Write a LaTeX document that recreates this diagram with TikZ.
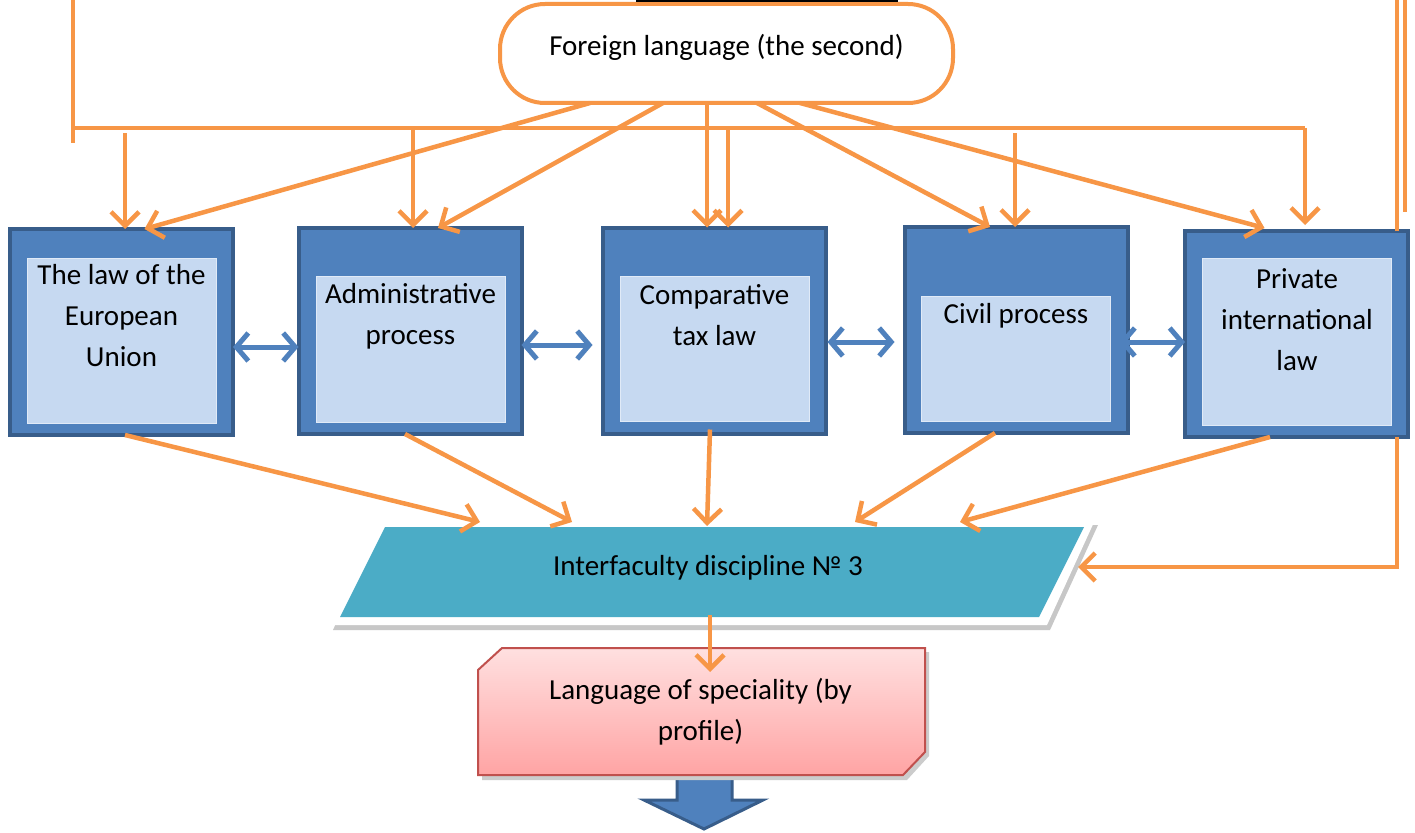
\documentclass[tikz,border=0pt]{standalone}
\usepackage{fontspec}
\setmainfont{Carlito}
\usetikzlibrary{arrows.meta,calc}
\definecolor{orng}{HTML}{F79646}
\definecolor{bmid}{HTML}{4F81BD}
\definecolor{bdark}{HTML}{385D8A}
\definecolor{binner}{HTML}{C6D9F1}
\definecolor{teal}{HTML}{4BACC6}
\definecolor{redb}{HTML}{C0504D}
\definecolor{pinktop}{HTML}{FFE0E0}
\definecolor{pinkbot}{HTML}{FFA4A4}
\begin{document}
\begin{tikzpicture}[x=1pt,y=-1pt,
  outerbox/.style={draw=bdark, line width=4pt, fill=bmid, minimum width=223pt, minimum height=206pt, inner sep=0pt, outer sep=0pt},
  innerbox/.style={draw=white!45!binner, line width=1pt, fill=binner, minimum width=189pt, inner sep=0pt, outer sep=0pt},
  txt/.style={font=\fontsize{29}{41}\selectfont, align=center, inner sep=0pt, text=black},
  oline/.style={draw=orng, line width=4.5pt},
  oarr/.style={draw=orng, line width=4.5pt, -{Straight Barb[length=14pt,width=28pt]}},
  barr/.style={draw=bmid, line width=5pt, {Straight Barb[length=12pt,width=28pt]}-{Straight Barb[length=12pt,width=28pt]}},
  ghost/.style={draw=none, inner sep=0pt, outer sep=0pt}
]
\useasboundingbox (0,0) rectangle (1415,832);
\fill[white] (0,0) rectangle (1415,832);

% ---------- top box ----------
\node[draw=orng, line width=4pt, fill=white, rounded corners=45pt, minimum width=453pt, minimum height=99pt, inner sep=0pt, outer sep=0pt] (fl) at (726.5,53.5) {};
\fill[black] (636,0) rectangle (898,2.5);
\node[txt] (fltext) at (726.5,47) {Foreign language (the second)};

% ---------- five boxes ----------
\node[outerbox] (b1) at (121.5,332) {};
\node[innerbox, minimum height=165pt] (i1) at (121.5,340.5) {};
\node[txt] (t1) at (121.5,316) {The law of the\\European\\Union};

\node[outerbox] (b2) at (410,331) {};
\node[innerbox, minimum height=146pt] (i2) at (410.5,349) {};
\node[txt] (t2) at (410.5,316.5) {Administrative\\process};

\node[outerbox] (b3) at (714,330.5) {};
\node[innerbox, minimum height=145pt] (i3) at (714.5,348.5) {};
\node[txt] (t3) at (714.5,315.5) {Comparative\\tax law};

\node[outerbox] (b4) at (1016,330) {};
\node[innerbox, minimum height=125pt] (i4) at (1015.5,358.5) {};
\node[txt] (t4) at (1016,316) {Civil process};

\node[outerbox] (b5) at (1296.5,334) {};
\node[innerbox, minimum height=167pt] (i5) at (1296.5,341.5) {};
\node[txt] (t5) at (1297,320) {Private\\international\\law};

% ---------- blue double arrows ----------
\draw[barr] ([yshift=-15pt]b1.east) -- ([yshift=-16pt]b2.west);
\draw[barr] ([yshift=-14pt]b2.east) -- ([xshift=-10pt,yshift=-14.5pt]b3.west);
\draw[barr] ([xshift=2pt,yshift=-11.5pt]b3.east) -- ([xshift=-10pt,yshift=-12pt]b4.west);
\draw[barr] ([xshift=-8pt,yshift=-12pt]b4.east) -- ([yshift=-8pt]b5.west);

% ---------- orange lines from above ----------
\coordinate (tl0) at (73,0);
\coordinate (tl1) at (73,143);
\coordinate (busL) at (73,128);
\coordinate (busR) at (1305,128);
\draw[oline] (tl0) -- (tl1);
\draw[oline] (busL) -- (busR);

\coordinate (d1) at ([xshift=3.5pt]b1.north);
\coordinate (d2) at ([xshift=3pt]b2.north);
\coordinate (d3) at ([xshift=14pt]b3.north);
\coordinate (d4) at ([xshift=-1pt]b4.north);
\coordinate (d5) at ([xshift=8.5pt,yshift=6pt]b5.north);
\draw[oarr] ($(d1 |- busL)+(0,5)$) -- (d1);
\draw[oarr] (d2 |- busL) -- (d2);
\draw[oarr] (d3 |- busL) -- (d3);
\draw[oarr] ($(d4 |- busL)+(0,5)$) -- (d4);
\draw[oarr] (busR) -- (d5);

% right-hand vertical lines
\coordinate (r1) at ([xshift=100.5pt]b5.north);
\coordinate (r1top) at (1397,0);
\coordinate (r2top) at (1405,0);
\coordinate (r2bot) at (1405,212);
\draw[oline] (r1top) -- (r1);
\draw[oline] (r2top) -- (r2bot);

% ---------- arrows from the top box ----------
\draw[oarr] ([xshift=-136.5pt]fl.south) -- ([xshift=23pt]b1.north);
\draw[oarr] ([xshift=-63.5pt]fl.south) -- ([xshift=28pt]b2.north);
\draw[oarr] ([xshift=-19.5pt]fl.south) -- ([xshift=-7pt]b3.north);
\draw[oarr] ([xshift=30.5pt]fl.south) -- ([xshift=-26pt]b4.north);
\draw[oarr] ([xshift=73.5pt]fl.south) -- ([xshift=-32pt,yshift=3pt]b5.north);

% ---------- parallelogram ----------
\fill[black!22] (381,525) -- (1098,525) -- (1050,630) -- (333,630) -- cycle;
\fill[white] (378,520) -- (1095,520) -- (1047,625) -- (330,625) -- cycle;
\fill[teal] (385,527) -- (1084,527) -- (1039,617) -- (340,617) -- cycle;
\node[ghost, minimum width=700pt, minimum height=100pt] (pg) at (711.5,572) {};
\node[txt] (pgtext) at (708,568) {Interfaculty discipline № 3};

% arrows from the boxes to the parallelogram
\draw[oarr] ([xshift=3.5pt]b1.south) -- ([xshift=-231.5pt]pg.north);
\draw[oarr] ([xshift=-5pt]b2.south) -- ([xshift=-139.5pt]pg.north);
\draw[oarr] ([xshift=-4pt,yshift=4pt]b3.south) -- ([xshift=-4.5pt,yshift=-4pt]pg.north);
\draw[oarr] ([xshift=-21pt]b4.south) -- ([xshift=143.5pt]pg.north);
\draw[oarr] ([xshift=-26.5pt]b5.south) -- ([xshift=248.5pt]pg.north);
\coordinate (r1b) at ([xshift=100.5pt]b5.south);
\coordinate (pgR) at (1078,567);
\draw[oarr] (r1b) |- (pgR);

% ---------- block arrow ----------
\filldraw[fill=bmid, draw=bdark, line width=3pt, line join=miter]
  (677,770) -- (732,770) -- (732,800) -- (763,800) -- (704,829) -- (644,800) -- (677,800) -- cycle;

% ---------- language box ----------
\fill[black!20] (505,652) -- (929,652) -- (929,756) -- (907,780) -- (482,780) -- (482,674) -- cycle;
\path[top color=pinktop, bottom color=pinkbot, draw=redb, line width=2pt]
  (502,648) -- (925,648) -- (925,752) -- (903,775) -- (478,775) -- (478,670) -- cycle;
\node[ghost, minimum width=447pt, minimum height=127pt] (lang) at (701.5,711.5) {};
\node[txt] (langtext) at (700.5,712) {Language of speciality (by\\profile)};

\coordinate (pgB) at (710,615);
\draw[oarr] (pgB) -- ([xshift=8.5pt,yshift=-24pt]lang.north);
\end{tikzpicture}
\end{document}
